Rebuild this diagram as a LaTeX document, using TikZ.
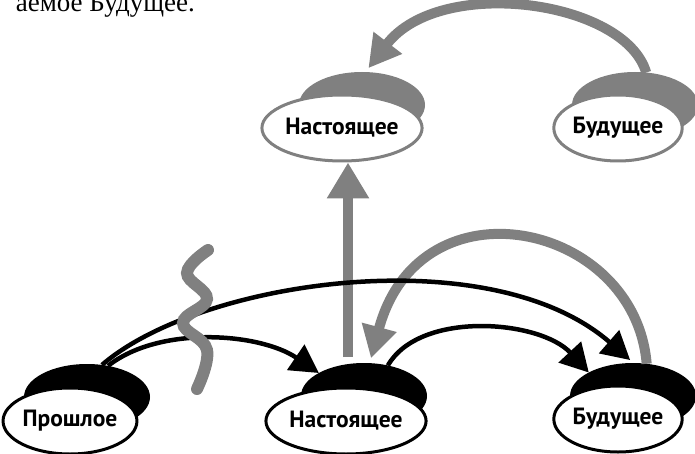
\documentclass[tikz,border=0pt]{standalone}
\usepackage{fontspec}
\newfontfamily\lblfont{PT Sans}
\newfontfamily\toptextfont{Liberation Serif}
\usetikzlibrary{shapes.geometric,arrows.meta}
\definecolor{gcol}{RGB}{128,128,128}
\begin{document}
\begin{tikzpicture}[x=1pt,y=-1pt,
  shadowB/.style={ellipse, fill=black, minimum width=126pt, minimum height=66pt, inner sep=0pt, outer sep=0pt},
  shadowG/.style={shadowB, fill=gcol},
  discB/.style={ellipse, draw=black, line width=3pt, fill=white, minimum width=126pt, minimum height=66pt, inner sep=0pt, font=\lblfont\bfseries\fontsize{23.5}{24}\selectfont},
  discG/.style={discB, draw=gcol},
  barrow/.style={draw=black, line width=4.5pt, -{Triangle[length=28pt,width=30pt]}},
  garrow/.style={draw=gcol, line width=10pt, -{Triangle[length=32pt,width=34pt]}},
  squig/.style={draw=gcol, line width=12pt, line cap=round}
]
\useasboundingbox (0,0) rectangle (695,454);
\node[anchor=base east, font=\toptextfont\fontsize{27}{27}\selectfont, inner sep=0pt] (cap) at (195,12) {аемое Будущее.};

% top row (grey)
\node[shadowG] (ntops) at (362,105) {};
\node[discG] (nt) at (342,128) {Настоящее};
\node[shadowG] (ftops) at (635,105) {};
\node[discG] (ft) at (618,128) {Будущее};

% bottom row (black)
\node[shadowB] (prs) at (87,397) {};
\node[discB] (pr) at (70,421) {Прошлое};
\node[shadowB] (nbs) at (364,396) {};
\node[discB] (nb) at (346,421) {Настоящее};
\node[shadowB] (fbs) at (633,396) {};
\node[discB] (fb) at (618,419) {Будущее};

% grey connectors
\draw[garrow] (ftops.71) .. controls (625,0) and (440,-25) .. ([yshift=4pt]ntops.79);
\draw[garrow, -{Triangle[length=36pt,width=40pt]}] ([xshift=-16pt,yshift=6pt]nbs.north) -- ([xshift=6pt]nt.south);
\draw[garrow] (fbs.67) .. controls (635,222) and (420,176) .. ([yshift=5pt]nbs.78);

% black connectors
\draw[barrow] (prs.65) .. controls (200,280) and (490,238) .. ([yshift=3pt]fbs.95);
\draw[barrow] (prs.56) .. controls (160,325) and (260,333) .. (nbs.153);
\draw[barrow] (nbs.52) .. controls (420,310) and (540,320) .. (fbs.152);

% break squiggle
\draw[squig] plot[smooth, tension=0.7] coordinates {(208,250) (187,273) (207,299) (183,323) (207,350) (197,389)};
\end{tikzpicture}
\end{document}
